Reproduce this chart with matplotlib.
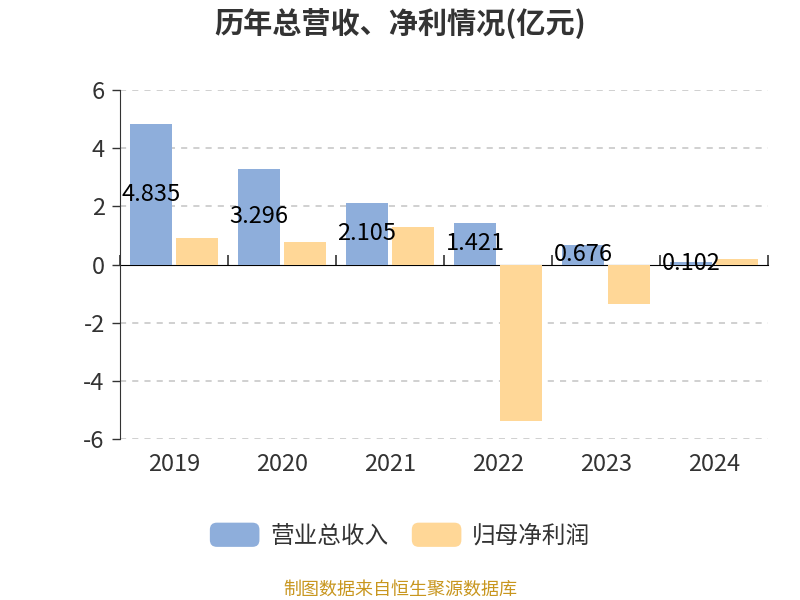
import numpy as np
import matplotlib
matplotlib.use("Agg")
import matplotlib.pyplot as plt
from matplotlib.patches import FancyBboxPatch, Patch
from matplotlib.legend_handler import HandlerPatch

plt.rcParams['font.family'] = ['Noto Sans CJK SC', 'DejaVu Sans']

years = ["2019", "2020", "2021", "2022", "2023", "2024"]
revenue = [4.835, 3.296, 2.105, 1.421, 0.676, 0.102]
net_profit = [0.93, 0.79, 1.29, -5.38, -1.37, 0.18]
series_names = ["营业总收入", "归母净利润"]
y_ticks = [-6, -4, -2, 0, 2, 4, 6]

blue = "#8eaedb"
yellow = "#ffd797"
text_gray = "#333333"


class RoundedHandler(HandlerPatch):
    def create_artists(self, legend, orig_handle, xdescent, ydescent, width, height, fontsize, trans):
        p = FancyBboxPatch((-xdescent, -ydescent), width, height,
                           boxstyle="round,pad=0,rounding_size=5",
                           facecolor=orig_handle.get_facecolor(), edgecolor="none", transform=trans)
        return [p]


fig = plt.figure(figsize=(8, 6), dpi=100)
ax = fig.add_axes([0.15, 0.268, 0.81, 0.582])

x = np.arange(len(years))
w = 0.38
gap = 0.046
b1 = ax.bar(x - (w + gap) / 2, revenue, width=w, color=blue, zorder=3)
b2 = ax.bar(x + (w + gap) / 2, net_profit, width=w, color=yellow, zorder=3)

for rect, v in zip(b1, revenue):
    ax.text(rect.get_x() + rect.get_width() / 2, v / 2, "{:.3f}".format(v),
            ha="center", va="center", fontsize=17, color="black", zorder=5)

ax.set_xlim(-0.5, len(years) - 0.5)
ax.set_ylim(-6, 6)
ax.set_yticks(y_ticks)
ax.set_yticklabels([str(t) for t in y_ticks])
ax.tick_params(axis="y", length=6, width=1, color=text_gray, labelsize=17, labelcolor=text_gray, pad=5)
ax.set_xticks(x)
ax.set_xticklabels(years)
ax.tick_params(axis="x", length=0, labelsize=17, labelcolor=text_gray, pad=10)

ax.grid(axis="y", linestyle=(0, (4, 4)), color="#c4c4c4", linewidth=1.1, zorder=0)
for line, t in zip(ax.get_ygridlines(), y_ticks):
    if t == 0:
        line.set_visible(False)
for s in ["top", "right", "bottom"]:
    ax.spines[s].set_visible(False)
ax.spines["left"].set_color(text_gray)

# axis line at zero with ticks between categories
zero_ax = ax.secondary_xaxis(0.5)
zero_ax.set_xticks(np.arange(len(years) + 1) - 0.5)
zero_ax.set_xticklabels([])
zero_ax.tick_params(axis="x", direction="out", length=7, width=1.2, color=text_gray)
zero_ax.spines["bottom"].set_color(text_gray)
zero_ax.spines["bottom"].set_linewidth(1.2)

fig.text(0.5, 0.962, "历年总营收、净利情况(亿元)", ha="center", va="center",
         fontsize=21, fontweight="bold", color=text_gray)

h1 = Patch(facecolor=blue)
h2 = Patch(facecolor=yellow)
leg = fig.legend(handles=[h1, h2], labels=series_names, loc="center", bbox_to_anchor=(0.5, 0.108),
                 ncol=2, frameon=False, fontsize=17, handlelength=2.1, handleheight=1.2,
                 columnspacing=1.0, handletextpad=0.45,
                 handler_map={Patch: RoundedHandler()})
for t in leg.get_texts():
    t.set_color(text_gray)

fig.text(0.5, 0.017, "制图数据来自恒生聚源数据库", ha="center", va="center", fontsize=13, color="#c8961e")

fig.savefig("out.png", dpi=100)
